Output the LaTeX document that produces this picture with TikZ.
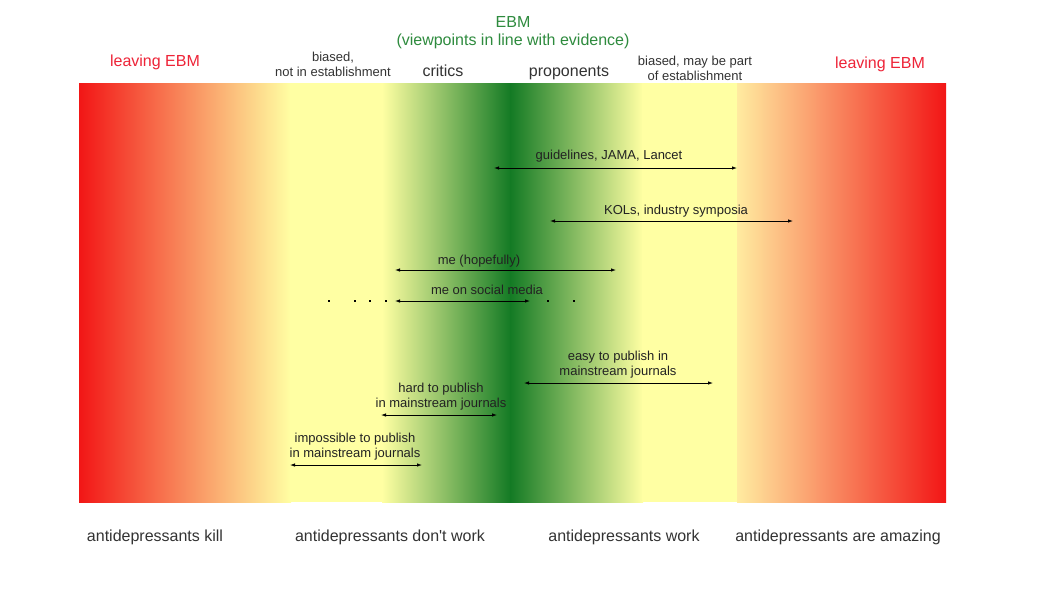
\documentclass[tikz,border=0pt]{standalone}
\usepackage{fontspec}
\setmainfont{Liberation Sans}
\usetikzlibrary{arrows.meta}

\definecolor{bandred}{HTML}{F21616}
\definecolor{bandyellow}{HTML}{FFFFA3}
\definecolor{bandorange}{HTML}{FFEBA0}
\definecolor{banddarkgreen}{HTML}{137A24}
\definecolor{ebmgreen}{HTML}{2E8B3E}
\definecolor{leavingred}{HTML}{EE2438}
\definecolor{labelgray}{HTML}{222222}
\definecolor{axisgray}{HTML}{333333}

\begin{document}
\begin{tikzpicture}[x=1pt,y=-1pt,
  biglabel/.style={inner sep=0pt,anchor=base,font=\fontsize{16}{19}\selectfont},
  smalllabel/.style={inner sep=0pt,anchor=base,align=center,
    font=\fontsize{13}{15}\selectfont,text=labelgray},
  axislabel/.style={biglabel,text=axisgray},
  leaving/.style={biglabel,text=leavingred},
  biarrow/.style={line width=0.8pt,
    {Latex[length=5pt,width=3.5pt]}-{Latex[length=5pt,width=3.5pt]}},
  dotmark/.style={rectangle,fill=black,inner sep=0pt,minimum size=2.2pt}]

\useasboundingbox (0,0) rectangle (1058,595);
\fill[white] (0,0) rectangle (1058,595);

% colour band: red - yellow - green - yellow - red
\shade[left color=bandred, right color=bandyellow] (79,83) rectangle (291,502);
\fill[bandyellow] (290,83) rectangle (383,502);
\shade[left color=bandyellow, right color=banddarkgreen] (382,83) rectangle (511,502);
\shade[left color=banddarkgreen, right color=bandyellow] (510,83) rectangle (643,502);
\fill[bandyellow] (642,83) rectangle (738,502);
\shade[left color=bandorange, right color=bandred] (737,83) rectangle (946,502);

% headings (multi-line labels are placed by the baseline of their last line)
\node[biglabel,text=ebmgreen] (ebm) at (513,27) {EBM};
\node[biglabel,text=ebmgreen] (ebmsub) at (513,45) {(viewpoints in line with evidence)};
\node[leaving] (leaveL) at (155,66) {leaving EBM};
\node[leaving] (leaveR) at (880,68) {leaving EBM};
\node[smalllabel,text=axisgray] (biasL) at (333,76) {biased,\\not in establishment};
\node[biglabel,text=axisgray] (critics) at (443,76) {critics};
\node[biglabel,text=axisgray] (proponents) at (569,76) {proponents};
\node[smalllabel,text=axisgray] (biasR) at (695,80) {biased, may be part\\of establishment};

% ranges
\coordinate (gA) at (494,168); \coordinate (gB) at (737,168);
\draw[biarrow] (gA) -- (gB);
\node[smalllabel] (guide) at (609,159) {guidelines, JAMA, Lancet};

\coordinate (kA) at (550,221); \coordinate (kB) at (793,221);
\draw[biarrow] (kA) -- (kB);
\node[smalllabel] (kol) at (676,214) {KOLs, industry symposia};

\coordinate (hA) at (395,270); \coordinate (hB) at (616,270);
\draw[biarrow] (hA) -- (hB);
\node[smalllabel] (hope) at (479,264) {me (hopefully)};

\coordinate (sA) at (395,301); \coordinate (sB) at (530,301);
\draw[biarrow] (sA) -- (sB);
\node[smalllabel] (social) at (487,294) {me on social media};
\node[dotmark] (d1) at (329,301) {};
\node[dotmark] (d2) at (355,301) {};
\node[dotmark] (d3) at (370,301) {};
\node[dotmark] (d4) at (386,301) {};
\node[dotmark] (d5) at (548,301) {};
\node[dotmark] (d6) at (574,301) {};

\coordinate (eA) at (524,383); \coordinate (eB) at (713,383);
\draw[biarrow] (eA) -- (eB);
\node[smalllabel] (easy) at (618,375) {easy to publish in\\mainstream journals};

\coordinate (rA) at (381,415); \coordinate (rB) at (497,415);
\draw[biarrow] (rA) -- (rB);
\node[smalllabel] (hard) at (441,407) {hard to publish\\in mainstream journals};

\coordinate (iA) at (290,465); \coordinate (iB) at (422,465);
\draw[biarrow] (iA) -- (iB);
\node[smalllabel] (imposs) at (355,457) {impossible to publish\\in mainstream journals};

% scale below the band
\node[axislabel] (kill) at (155,541) {antidepressants kill};
\node[axislabel] (dontwork) at (390,541) {antidepressants don\textquotesingle t work};
\node[axislabel] (work) at (624,541) {antidepressants work};
\node[axislabel] (amazing) at (838,541) {antidepressants are amazing};
\end{tikzpicture}
\end{document}
